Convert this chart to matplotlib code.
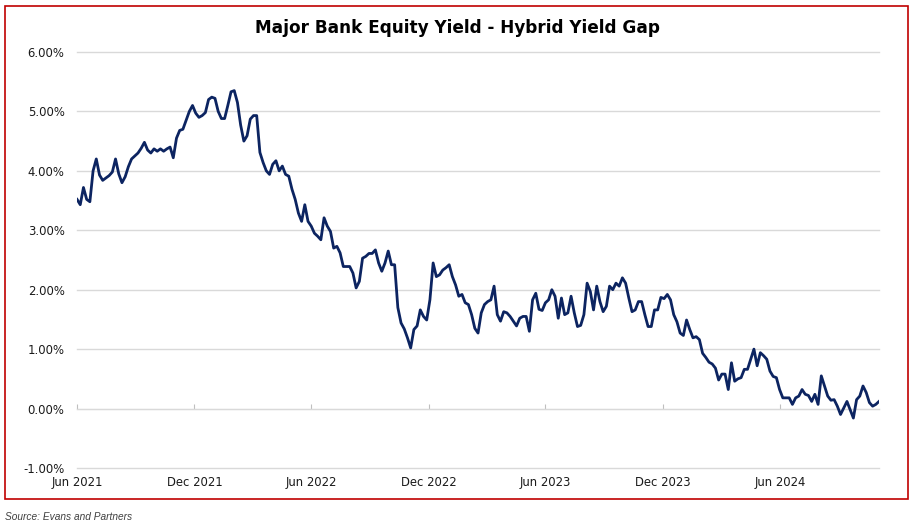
import pandas as pd
import matplotlib
matplotlib.use("Agg")
import matplotlib.pyplot as plt
import matplotlib.dates as mdates
from matplotlib.ticker import PercentFormatter, MultipleLocator
from matplotlib.patches import Rectangle

plt.rcParams["axes.unicode_minus"] = False

# Gap between major bank equity yield and hybrid yield, in %, sampled every 5 days from 1 Jun 2021
start_date = "2021-06-01"
step = "5D"
gap = [
    3.52, 3.43, 3.72, 3.52, 3.48, 4.00, 4.20, 3.93, 3.84, 3.88,
    3.92, 3.98, 4.20, 3.95, 3.80, 3.90, 4.07, 4.20, 4.25, 4.30,
    4.38, 4.48, 4.35, 4.30, 4.37, 4.33, 4.37, 4.33, 4.37, 4.40,
    4.22, 4.55, 4.68, 4.70, 4.85, 5.00, 5.10, 4.97, 4.90, 4.93,
    4.98, 5.20, 5.24, 5.22, 5.00, 4.88, 4.88, 5.10, 5.33, 5.35,
    5.15, 4.77, 4.50, 4.59, 4.87, 4.93, 4.93, 4.31, 4.14, 4.00,
    3.94, 4.11, 4.17, 4.00, 4.08, 3.94, 3.91, 3.69, 3.52, 3.29,
    3.15, 3.43, 3.15, 3.07, 2.95, 2.90, 2.84, 3.21, 3.07, 2.98,
    2.70, 2.73, 2.62, 2.39, 2.39, 2.39, 2.28, 2.03, 2.14, 2.53,
    2.56, 2.61, 2.61, 2.67, 2.45, 2.31, 2.45, 2.65, 2.42, 2.42,
    1.70, 1.44, 1.34, 1.19, 1.02, 1.33, 1.39, 1.66, 1.55, 1.49,
    1.83, 2.45, 2.22, 2.25, 2.33, 2.37, 2.42, 2.22, 2.08, 1.89,
    1.92, 1.78, 1.75, 1.58, 1.35, 1.27, 1.61, 1.75, 1.80, 1.83,
    2.06, 1.58, 1.47, 1.63, 1.61, 1.55, 1.47, 1.39, 1.52, 1.55,
    1.55, 1.30, 1.83, 1.94, 1.67, 1.65, 1.78, 1.83, 2.00, 1.89,
    1.52, 1.86, 1.58, 1.61, 1.89, 1.61, 1.38, 1.40, 1.58, 2.11,
    1.97, 1.66, 2.06, 1.80, 1.63, 1.72, 2.06, 2.00, 2.11, 2.06,
    2.20, 2.11, 1.86, 1.63, 1.66, 1.80, 1.80, 1.58, 1.38, 1.38,
    1.66, 1.66, 1.87, 1.85, 1.92, 1.83, 1.58, 1.46, 1.27, 1.23,
    1.49, 1.33, 1.19, 1.21, 1.16, 0.93, 0.86, 0.78, 0.75, 0.68,
    0.48, 0.58, 0.58, 0.32, 0.77, 0.46, 0.50, 0.52, 0.66, 0.66,
    0.83, 1.00, 0.72, 0.94, 0.89, 0.83, 0.63, 0.54, 0.52, 0.32,
    0.18, 0.18, 0.18, 0.07, 0.18, 0.21, 0.32, 0.24, 0.22, 0.12,
    0.24, 0.07, 0.55, 0.38, 0.21, 0.14, 0.15, 0.04, -0.10, 0.01,
    0.12, -0.02, -0.16, 0.15, 0.21, 0.38, 0.27, 0.10, 0.04, 0.07,
    0.12,
]
x_ticks = ["2021-06-01", "2021-12-01", "2022-06-01", "2022-12-01",
           "2023-06-01", "2023-12-01", "2024-06-01"]
x_end = "2024-11-02"

dates = pd.date_range(start_date, periods=len(gap), freq=step)
tick_dates = pd.to_datetime(x_ticks)

fig = plt.figure(figsize=(9.15, 5.23), dpi=100)
ax = fig.add_axes([0.0842, 0.1052, 0.8765, 0.7954])

ax.plot(dates, gap, color="#0c2461", lw=2.0, solid_joinstyle="round", zorder=3)

ax.set_ylim(-1, 6)
ax.set_xlim(pd.Timestamp(start_date), pd.Timestamp(x_end))
ax.yaxis.set_major_locator(MultipleLocator(1))
ax.yaxis.set_major_formatter(PercentFormatter(decimals=2))
ax.grid(axis="y", color="#d9d9d9", lw=1)
ax.set_axisbelow(True)
for s in ax.spines.values():
    s.set_visible(False)

ax.set_xticks(tick_dates)
ax.xaxis.set_major_formatter(mdates.DateFormatter("%b %Y"))
ax.tick_params(axis="both", length=0, labelsize=8.4, labelcolor="#1a1a1a")
ax.tick_params(axis="y", pad=9)
ax.tick_params(axis="x", pad=6)
for gl in ax.get_ygridlines():
    gl.set_clip_on(False)

# axis line at 0% with small upward tick marks
zero_axis = ax.secondary_xaxis(1 / 7)
zero_axis.set_xticks(tick_dates)
zero_axis.spines["bottom"].set_color("#d9d9d9")
zero_axis.tick_params(direction="in", length=3.5, color="#bfbfbf", labelbottom=False)

fig.text(0.4995, 0.946, "Major Bank Equity Yield - Hybrid Yield Gap",
         ha="center", va="center", fontsize=12.2, fontweight="bold", color="black")
fig.text(0.006, 0.002, "Source: Evans and Partners", ha="left", va="bottom",
         fontsize=7.3, style="italic", family="Liberation Sans", color="#404040")

fig.patches.append(Rectangle((0.0055, 0.046), 0.987, 0.943, transform=fig.transFigure,
                             fill=False, edgecolor="#c00000", lw=1.2))

fig.savefig("out.png", dpi=100)
